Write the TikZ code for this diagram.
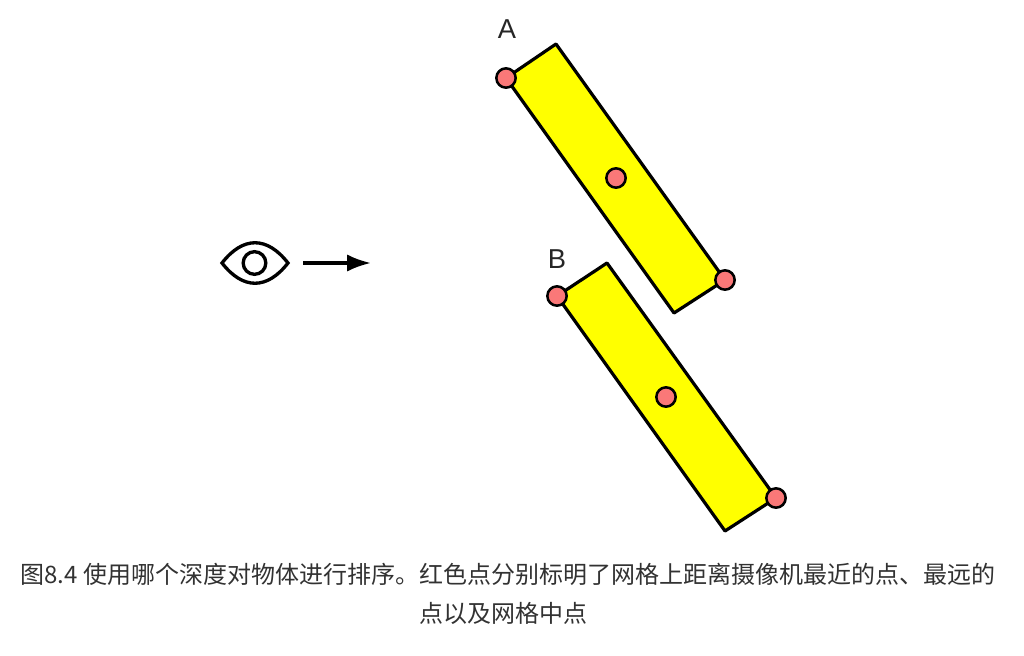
\documentclass[tikz,border=0pt]{standalone}
\usepackage{fontspec}
\setmainfont{Liberation Sans}
\newfontfamily\cjk{Noto Sans CJK SC}
\usetikzlibrary{arrows.meta}

\definecolor{dotred}{RGB}{250,120,120}
\definecolor{meshyellow}{RGB}{255,255,0}
\definecolor{captiongray}{RGB}{50,50,50}

\begin{document}
\begin{tikzpicture}[x=0.75pt, y=-0.75pt, >={Latex[length=18pt,width=13pt]},
    mesh/.style={draw=black, fill=meshyellow, line width=2.4pt, line join=round},
    dot/.style={circle, draw=black, fill=dotred, line width=1.9pt, minimum size=14.5pt, inner sep=0pt},
    eyeline/.style={draw=black, line width=2.5pt},
    letter/.style={font=\fontsize{20.5}{20.5}\selectfont, text=black!85},
    caption/.style={font=\cjk\fontsize{18}{24}\selectfont, text=captiongray}]
    \useasboundingbox (0,0) rectangle (1024,656);

    % Corners of the meshes
    \coordinate (a1) at (506,78);
    \coordinate (a2) at (556,44);
    \coordinate (a3) at (725,280);
    \coordinate (a4) at (674,313);
    \coordinate (b1) at (557,296);
    \coordinate (b2) at (607,263);
    \coordinate (b3) at (776,498);
    \coordinate (b4) at (725,531);

    % Meshes
    \draw [mesh] (a1) -- (a2) -- (a3) -- (a4) -- cycle;
    \draw [mesh] (b1) -- (b2) -- (b3) -- (b4) -- cycle;

    % Nearest, middle and farthest points
    \node [dot] (anear) at (a1)        {};
    \node [dot] (amid)  at (616,178)   {};
    \node [dot] (afar)  at (a3)        {};
    \node [dot] (bnear) at (b1)        {};
    \node [dot] (bmid)  at (666,397)   {};
    \node [dot] (bfar)  at (b3)        {};

    % Labels
    \node [letter] (la) at (507,29)  {A};
    \node [letter] (lb) at (557,259) {B};

    % Eye
    \coordinate (eyeleft)  at (222,263);
    \coordinate (eyeright) at (288,263);
    \draw [eyeline] (eyeleft) .. controls (243,236) and (267,236) .. (eyeright)
                              .. controls (267,290) and (243,290) .. (eyeleft) -- cycle;
    \node [circle, eyeline, minimum size=17pt, inner sep=0pt] (iris) at (254.5,263) {};

    % View direction
    \coordinate (viewstart) at (303,263);
    \coordinate (viewend)   at (371,263);
    \draw [->, line width=2.4pt] (viewstart) -- (viewend);

    % Caption
    \node [caption, anchor=base] (cap1) at (508,583) {图8.4 使用哪个深度对物体进行排序。红色点分别标明了网格上距离摄像机最近的点、最远的};
    \node [caption, anchor=base] (cap2) at (503.5,622) {点以及网格中点};
\end{tikzpicture}
\end{document}
